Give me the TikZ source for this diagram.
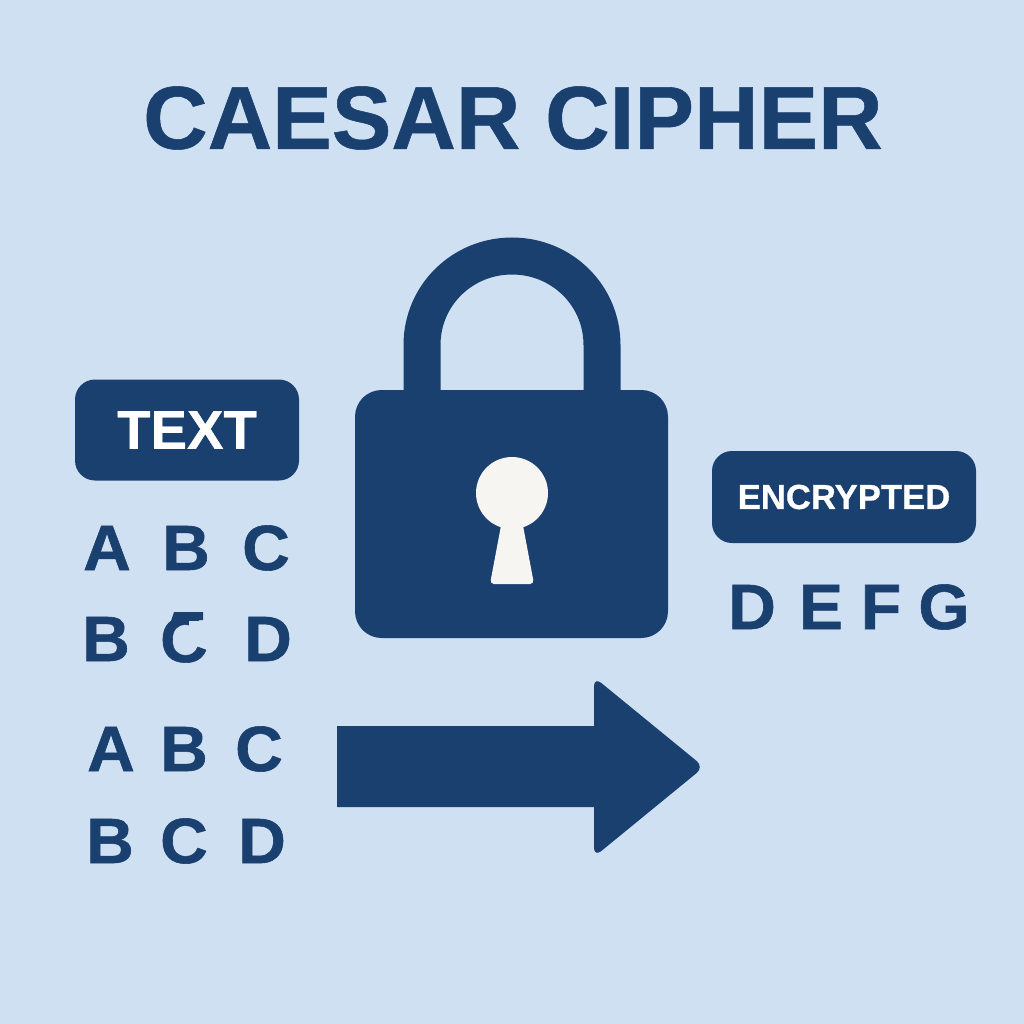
\documentclass[tikz,border=0pt]{standalone}
\usepackage{fontspec}
\setmainfont[BoldFeatures={FakeBold=0.6}]{Liberation Sans}
\newfontfamily\wideb[FakeStretch=1.03,FakeBold=0.9]{Liberation Sans Bold}
\definecolor{bgc}{HTML}{CFE0F3}
\definecolor{navy}{HTML}{1A4070}
\definecolor{cream}{HTML}{F6F5F1}
\tikzset{x=0.75pt,y=-0.75pt,
 ltr/.style={text=navy,font=\wideb\fontsize{48pt}{48pt}\selectfont,inner sep=0pt,anchor=center},
 tag/.style={fill=navy,rounded corners=15pt,text=white,inner sep=0pt,font=\bfseries}}
\begin{document}
\begin{tikzpicture}
\useasboundingbox (0,0) rectangle (1024,1024);
\fill[bgc] (0,0) rectangle (1024,1024);
\node[text=navy,inner sep=0pt,font=\bfseries\fontsize{67pt}{67pt}\selectfont] (title) at (513,118) {CAESAR CIPHER};
% shackle
\draw[navy,line width=27.75pt] (422,395) -- (422,345) .. controls (422,295.3) and (462.3,256) .. (512,256) .. controls (561.7,256) and (602,295.3) .. (602,345) -- (602,395);
% body
\fill[navy,rounded corners=20pt] (355,390) rectangle (668,638);
% keyhole
\fill[cream] (512,493) circle (36);
\fill[cream,rounded corners=3pt] (503,515) -- (521,515) -- (534,584) -- (490,584) -- cycle;
% tags
\node[tag,minimum width=168pt,minimum height=75.75pt,font=\bfseries\fontsize{41pt}{41pt}\selectfont] (text) at (187,430) {TEXT};
\node[tag,minimum width=198pt,minimum height=69pt,font=\bfseries\fontsize{26pt}{26pt}\selectfont] (enc) at (844,497) {ENCRYPTED};
% letters
\node[ltr] (a1) at (107,548) {A}; \node[ltr] (b1) at (186,548) {B}; \node[ltr] (c1) at (266,548) {C};
\node[ltr] (a2) at (106,639) {B}; \node[ltr] (b2) at (184,640) {C}; \node[ltr] (c2) at (268,639) {D};
\fill[bgc] (189,621) rectangle (212,636);
\fill[navy] (174,612) -- (203,612) -- (203,620) -- (188,620) -- (178,624) -- (168,630) -- cycle;
\node[ltr] (a3) at (111,749) {A}; \node[ltr] (b3) at (184,749) {B}; \node[ltr] (c3) at (259,749) {C};
\node[ltr] (a4) at (110,841) {B}; \node[ltr] (b4) at (184,841) {C}; \node[ltr] (c4) at (262,841) {D};
\node[ltr] (d) at (752,607) {D}; \node[ltr] (e) at (821,607) {E}; \node[ltr] (f) at (881,607) {F}; \node[ltr] (g) at (944,607) {G};
% arrow
\fill[navy] (337,726) -- (594,726) [rounded corners=7pt] -- (594,677) -- (704,767) -- (594,857) [sharp corners] -- (594,807) -- (337,807) -- cycle;
\end{tikzpicture}
\end{document}
